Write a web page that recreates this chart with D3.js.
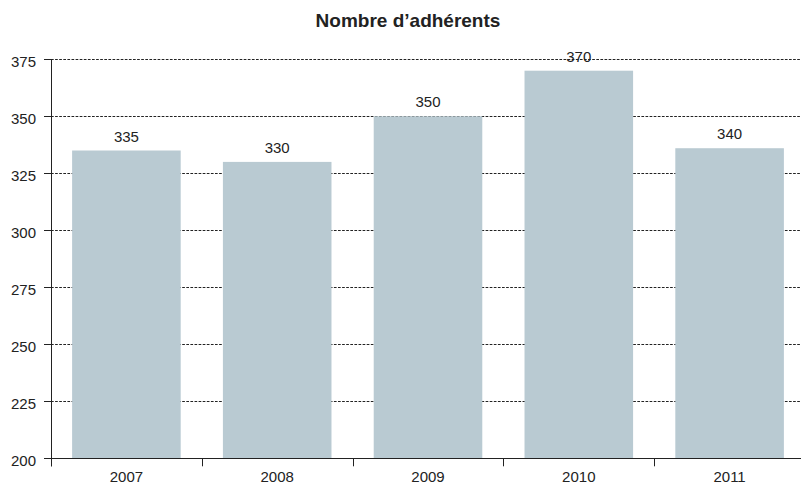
<!DOCTYPE html>
<html>
<head>
<meta charset="utf-8">
<script src="https://cdn.jsdelivr.net/npm/d3@7"></script>
<style>
  html, body { margin: 0; padding: 0; background: #fff; }
  svg { display: block; font-family: "Liberation Sans", Arial, Helvetica, sans-serif; }
</style>
</head>
<body>
<svg id="chart" width="801" height="483"></svg>
<script>
const title = "Nombre d\u2019adhérents";
const years = ["2007", "2008", "2009", "2010", "2011"];
const values = [335, 330, 350, 370, 336];
const valueLabels = ["335", "330", "350", "370", "340"];
const yTicks = [200, 225, 250, 275, 300, 325, 350, 375];

(function () {
const svg = d3.select("#chart");
const W = 801;
const mLeft = 51, mRight = 805, mTop = 59.3, mBottom = 458.3;
const textColor = "#222";
const fs = 15;

const x = d3.scaleBand().domain(years).range([mLeft, mRight]).paddingInner(0.28).paddingOuter(0.14);
const y = d3.scaleLinear().domain([200, 375]).range([mBottom, mTop]);

// title
svg.append("text")
  .attr("x", 408).attr("y", 27)
  .attr("text-anchor", "middle")
  .attr("font-size", 19).attr("font-weight", "bold")
  .attr("fill", textColor)
  .text(title);

// gridlines
svg.append("g").selectAll("line")
  .data(yTicks.filter(t => t > 200))
  .join("line")
  .attr("x1", mLeft).attr("x2", W)
  .attr("y1", d => Math.round(y(d)) + 0.5).attr("y2", d => Math.round(y(d)) + 0.5)
  .attr("stroke", "#222").attr("stroke-width", 1)
  .attr("stroke-dasharray", "2.7,1.4");

// bars
svg.append("g").selectAll("rect")
  .data(years)
  .join("rect")
  .attr("x", d => x(d))
  .attr("width", x.bandwidth())
  .attr("y", (d, i) => y(values[i]))
  .attr("height", (d, i) => mBottom - y(values[i]))
  .attr("fill", "#b9cad2");

// value labels
svg.append("g").selectAll("text")
  .data(years)
  .join("text")
  .attr("x", d => x(d) + x.bandwidth() / 2)
  .attr("y", (d, i) => y(values[i]) - 9)
  .attr("text-anchor", "middle")
  .attr("font-size", fs)
  .attr("fill", textColor)
  .text((d, i) => valueLabels[i]);

// y axis
const yAxis = svg.append("g");
yAxis.append("line")
  .attr("x1", mLeft + 0.5).attr("x2", mLeft + 0.5)
  .attr("y1", mTop).attr("y2", mBottom + 8)
  .attr("stroke", "#222");
yAxis.selectAll("line.tick")
  .data(yTicks)
  .join("line")
  .attr("class", "tick")
  .attr("x1", mLeft - 7).attr("x2", mLeft)
  .attr("y1", d => Math.round(y(d)) + 0.5).attr("y2", d => Math.round(y(d)) + 0.5)
  .attr("stroke", "#222");
yAxis.selectAll("text")
  .data(yTicks)
  .join("text")
  .attr("x", mLeft - 15)
  .attr("y", d => y(d) + 8)
  .attr("text-anchor", "end")
  .attr("font-size", fs)
  .attr("fill", textColor)
  .text(d => d);

// x axis
const xAxis = svg.append("g");
xAxis.append("line")
  .attr("x1", mLeft).attr("x2", W)
  .attr("y1", Math.round(mBottom) + 0.5).attr("y2", Math.round(mBottom) + 0.5)
  .attr("stroke", "#222");
const boundaries = years.map(d => x(d) - x.step() * x.paddingInner() / 2);
xAxis.selectAll("line.tick")
  .data(boundaries)
  .join("line")
  .attr("class", "tick")
  .attr("x1", d => Math.round(d) + 0.5).attr("x2", d => Math.round(d) + 0.5)
  .attr("y1", mBottom).attr("y2", mBottom + 8)
  .attr("stroke", "#222");
xAxis.selectAll("text")
  .data(years)
  .join("text")
  .attr("x", d => x(d) + x.bandwidth() / 2)
  .attr("y", 481.5)
  .attr("text-anchor", "middle")
  .attr("font-size", fs)
  .attr("fill", textColor)
  .text(d => d);
})();
</script>
</body>
</html>
